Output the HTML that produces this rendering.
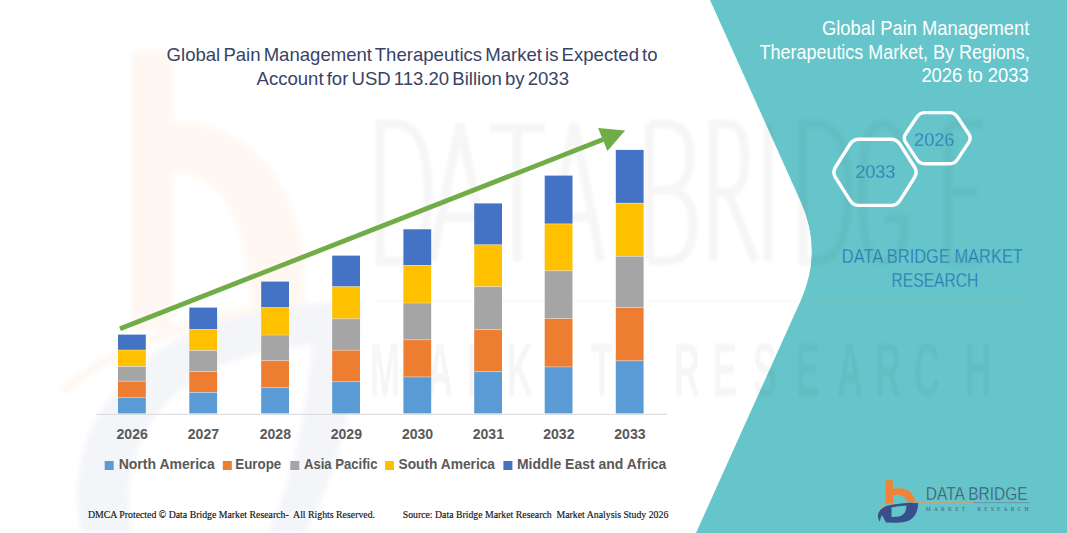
<!DOCTYPE html>
<html><head><meta charset="utf-8">
<style>
html,body{margin:0;padding:0;background:#fff;}
body{width:1067px;height:533px;overflow:hidden;position:relative;}
svg{position:absolute;left:0;top:0;display:block;}
text{font-family:"Liberation Sans",sans-serif;}
.serif{font-family:"Liberation Serif",serif;}
</style></head><body>
<svg width="1067" height="533" viewBox="0 0 1067 533">
<rect x="0" y="0" width="1067" height="533" fill="#ffffff"/>
<!-- watermark -->
<filter id="bl2" x="-20%" y="-20%" width="140%" height="140%"><feGaussianBlur stdDeviation="2.5"/></filter>
<g filter="url(#bl2)">
  <path fill-rule="evenodd" d="M132 51 L172 51 L172 122 C240 118 300 175 305 270 L305 330 L132 330 Z M172 172 C225 172 250 230 252 330 L172 330 Z" fill="#FFF8F2"/>
  <path d="M62 392 Q130 330 300 300" fill="none" stroke="#FFF8F1" stroke-width="9"/>
  <path fill-rule="evenodd" d="M82 533 C60 440 120 352 220 322 C280 305 330 302 362 300 C357 400 335 480 305 533 Z M132 533 C118 460 150 392 230 362 C268 348 298 346 312 345 C306 420 292 480 268 533 Z" fill="#F4F5F9"/>
</g>
<!-- teal panel -->
<path d="M710 0 L800 200 Q823 250 801 300 L696 533 L1067 533 L1067 0 Z" fill="#66C5CA"/>

<!-- watermark letters -->
<filter id="bl" x="-10%" y="-10%" width="120%" height="120%"><feGaussianBlur stdDeviation="1.5"/></filter>
<g fill="none" stroke="#000" stroke-opacity="0.035" stroke-width="9" stroke-linejoin="miter" filter="url(#bl)" transform="translate(0,-1)">
<path d="M380 125 V262 H395 Q428 262 428 193.5 Q428 125 395 125 Z"/>
<path d="M432 262 L460 125 L488 262 M441 218 H479"/>
<path d="M490 129 H545 M517.5 129 V262"/>
<path d="M547 262 L574 125 L601 262 M556 218 H592"/>
<path d="M649 125 V262 M649 125 H665 Q690 125 690 157 Q690 191 665 191 H649 M665 191 Q693 191 693 226 Q693 262 665 262 H649"/>
<path d="M713 262 V125 H728 Q745 125 745 159 Q745 193 728 193 H713 M728 193 L755 262"/>
<path d="M768 125 V262"/>
<path d="M803 125 V262 H815 Q848 262 848 193.5 Q848 125 815 125 Z"/>
<path d="M905 150 Q895 125 882 125 Q862 125 862 193.5 Q862 262 882 262 Q905 262 905 220 H885"/>
<path d="M948 125 V262 M948 125 H983 M948 193 H978 M948 262 H983"/>
</g>
<rect x="374" y="299.5" width="660" height="3" fill="#F07A1A" fill-opacity="0.035"/>
<g transform="scale(0.48,1)" filter="url(#bl)"><text x="802.1 916.7 1000.0 1083.3 1166.7 1254.2 1431.2 1510.4 1593.8 1683.3 1770.8 1850.0 1931.2 2037.5" y="396.5" font-size="76" font-weight="bold" fill="#000" fill-opacity="0.035" text-anchor="middle">MARKETRESEARCH</text></g>

<!-- title -->
<text x="166.6" y="61" font-size="18.4" fill="#384366" word-spacing="-2" textLength="491" lengthAdjust="spacingAndGlyphs">Global Pain Management Therapeutics Market is Expected to</text>
<text x="256.5" y="84.5" font-size="18.4" fill="#384366" word-spacing="-2" textLength="312.5" lengthAdjust="spacingAndGlyphs">Account for USD 113.20 Billion by 2033</text>

<!-- axis -->
<rect x="96" y="413.8" width="571" height="1" fill="#D9D9D9"/>
<rect x="118" y="334.6" width="27.8" height="15.4" fill="#4472C4"/>
<rect x="118" y="350" width="27.8" height="16.5" fill="#FFC000"/>
<rect x="118" y="349.6" width="27.8" height="0.8" fill="#ffffff" fill-opacity="0.45"/>
<rect x="118" y="366.5" width="27.8" height="14.7" fill="#A5A5A5"/>
<rect x="118" y="366.1" width="27.8" height="0.8" fill="#ffffff" fill-opacity="0.45"/>
<rect x="118" y="381.2" width="27.8" height="16.1" fill="#ED7D31"/>
<rect x="118" y="380.8" width="27.8" height="0.8" fill="#ffffff" fill-opacity="0.45"/>
<rect x="118" y="397.3" width="27.8" height="16.1" fill="#5B9BD5"/>
<rect x="118" y="396.9" width="27.8" height="0.8" fill="#ffffff" fill-opacity="0.45"/>
<rect x="189.3" y="307.6" width="27.8" height="21.9" fill="#4472C4"/>
<rect x="189.3" y="329.5" width="27.8" height="21.0" fill="#FFC000"/>
<rect x="189.3" y="329.1" width="27.8" height="0.8" fill="#ffffff" fill-opacity="0.45"/>
<rect x="189.3" y="350.5" width="27.8" height="21.0" fill="#A5A5A5"/>
<rect x="189.3" y="350.1" width="27.8" height="0.8" fill="#ffffff" fill-opacity="0.45"/>
<rect x="189.3" y="371.5" width="27.8" height="20.9" fill="#ED7D31"/>
<rect x="189.3" y="371.1" width="27.8" height="0.8" fill="#ffffff" fill-opacity="0.45"/>
<rect x="189.3" y="392.4" width="27.8" height="21.0" fill="#5B9BD5"/>
<rect x="189.3" y="392.0" width="27.8" height="0.8" fill="#ffffff" fill-opacity="0.45"/>
<rect x="261.2" y="281.6" width="27.8" height="26.0" fill="#4472C4"/>
<rect x="261.2" y="307.6" width="27.8" height="27.4" fill="#FFC000"/>
<rect x="261.2" y="307.2" width="27.8" height="0.8" fill="#ffffff" fill-opacity="0.45"/>
<rect x="261.2" y="335" width="27.8" height="25.7" fill="#A5A5A5"/>
<rect x="261.2" y="334.6" width="27.8" height="0.8" fill="#ffffff" fill-opacity="0.45"/>
<rect x="261.2" y="360.7" width="27.8" height="27.0" fill="#ED7D31"/>
<rect x="261.2" y="360.3" width="27.8" height="0.8" fill="#ffffff" fill-opacity="0.45"/>
<rect x="261.2" y="387.7" width="27.8" height="25.7" fill="#5B9BD5"/>
<rect x="261.2" y="387.3" width="27.8" height="0.8" fill="#ffffff" fill-opacity="0.45"/>
<rect x="332.2" y="255.6" width="27.8" height="31.1" fill="#4472C4"/>
<rect x="332.2" y="286.7" width="27.8" height="32.1" fill="#FFC000"/>
<rect x="332.2" y="286.3" width="27.8" height="0.8" fill="#ffffff" fill-opacity="0.45"/>
<rect x="332.2" y="318.8" width="27.8" height="31.4" fill="#A5A5A5"/>
<rect x="332.2" y="318.4" width="27.8" height="0.8" fill="#ffffff" fill-opacity="0.45"/>
<rect x="332.2" y="350.2" width="27.8" height="31.5" fill="#ED7D31"/>
<rect x="332.2" y="349.8" width="27.8" height="0.8" fill="#ffffff" fill-opacity="0.45"/>
<rect x="332.2" y="381.7" width="27.8" height="31.7" fill="#5B9BD5"/>
<rect x="332.2" y="381.3" width="27.8" height="0.8" fill="#ffffff" fill-opacity="0.45"/>
<rect x="403.4" y="229.3" width="27.8" height="36.2" fill="#4472C4"/>
<rect x="403.4" y="265.5" width="27.8" height="37.5" fill="#FFC000"/>
<rect x="403.4" y="265.1" width="27.8" height="0.8" fill="#ffffff" fill-opacity="0.45"/>
<rect x="403.4" y="303" width="27.8" height="36.8" fill="#A5A5A5"/>
<rect x="403.4" y="302.6" width="27.8" height="0.8" fill="#ffffff" fill-opacity="0.45"/>
<rect x="403.4" y="339.8" width="27.8" height="37.1" fill="#ED7D31"/>
<rect x="403.4" y="339.4" width="27.8" height="0.8" fill="#ffffff" fill-opacity="0.45"/>
<rect x="403.4" y="376.9" width="27.8" height="36.5" fill="#5B9BD5"/>
<rect x="403.4" y="376.5" width="27.8" height="0.8" fill="#ffffff" fill-opacity="0.45"/>
<rect x="474.2" y="203.4" width="27.8" height="41.4" fill="#4472C4"/>
<rect x="474.2" y="244.8" width="27.8" height="41.9" fill="#FFC000"/>
<rect x="474.2" y="244.4" width="27.8" height="0.8" fill="#ffffff" fill-opacity="0.45"/>
<rect x="474.2" y="286.7" width="27.8" height="42.7" fill="#A5A5A5"/>
<rect x="474.2" y="286.3" width="27.8" height="0.8" fill="#ffffff" fill-opacity="0.45"/>
<rect x="474.2" y="329.4" width="27.8" height="42.3" fill="#ED7D31"/>
<rect x="474.2" y="329.0" width="27.8" height="0.8" fill="#ffffff" fill-opacity="0.45"/>
<rect x="474.2" y="371.7" width="27.8" height="41.7" fill="#5B9BD5"/>
<rect x="474.2" y="371.3" width="27.8" height="0.8" fill="#ffffff" fill-opacity="0.45"/>
<rect x="544.7" y="175.6" width="27.8" height="48.3" fill="#4472C4"/>
<rect x="544.7" y="223.9" width="27.8" height="46.9" fill="#FFC000"/>
<rect x="544.7" y="223.5" width="27.8" height="0.8" fill="#ffffff" fill-opacity="0.45"/>
<rect x="544.7" y="270.8" width="27.8" height="47.8" fill="#A5A5A5"/>
<rect x="544.7" y="270.4" width="27.8" height="0.8" fill="#ffffff" fill-opacity="0.45"/>
<rect x="544.7" y="318.6" width="27.8" height="48.3" fill="#ED7D31"/>
<rect x="544.7" y="318.2" width="27.8" height="0.8" fill="#ffffff" fill-opacity="0.45"/>
<rect x="544.7" y="366.9" width="27.8" height="46.5" fill="#5B9BD5"/>
<rect x="544.7" y="366.5" width="27.8" height="0.8" fill="#ffffff" fill-opacity="0.45"/>
<rect x="615.8" y="149.9" width="27.8" height="53.3" fill="#4472C4"/>
<rect x="615.8" y="203.2" width="27.8" height="53.1" fill="#FFC000"/>
<rect x="615.8" y="202.8" width="27.8" height="0.8" fill="#ffffff" fill-opacity="0.45"/>
<rect x="615.8" y="256.3" width="27.8" height="51.2" fill="#A5A5A5"/>
<rect x="615.8" y="255.9" width="27.8" height="0.8" fill="#ffffff" fill-opacity="0.45"/>
<rect x="615.8" y="307.5" width="27.8" height="53.3" fill="#ED7D31"/>
<rect x="615.8" y="307.1" width="27.8" height="0.8" fill="#ffffff" fill-opacity="0.45"/>
<rect x="615.8" y="360.8" width="27.8" height="52.6" fill="#5B9BD5"/>
<rect x="615.8" y="360.4" width="27.8" height="0.8" fill="#ffffff" fill-opacity="0.45"/>
<!-- arrow -->
<line x1="120" y1="328.7" x2="603" y2="139.5" stroke="#70AD47" stroke-width="4.8"/>
<path d="M625.1 130.6 L598.1 128.1 L607.4 150.9 Z" fill="#70AD47"/>

<!-- years -->
<g font-weight="bold" font-size="14.4" fill="#595959" text-anchor="middle">
<text x="132.15" y="438.7" textLength="31.3" lengthAdjust="spacingAndGlyphs">2026</text>
<text x="203.45" y="438.7" textLength="31.3" lengthAdjust="spacingAndGlyphs">2027</text>
<text x="275.35" y="438.7" textLength="31.3" lengthAdjust="spacingAndGlyphs">2028</text>
<text x="346.35" y="438.7" textLength="31.3" lengthAdjust="spacingAndGlyphs">2029</text>
<text x="417.55" y="438.7" textLength="31.3" lengthAdjust="spacingAndGlyphs">2030</text>
<text x="488.35" y="438.7" textLength="31.3" lengthAdjust="spacingAndGlyphs">2031</text>
<text x="558.85" y="438.7" textLength="31.3" lengthAdjust="spacingAndGlyphs">2032</text>
<text x="629.95" y="438.7" textLength="31.3" lengthAdjust="spacingAndGlyphs">2033</text>
</g>

<!-- legend -->
<g font-weight="bold" font-size="14.7" fill="#595959">
<rect x="104.7" y="461" width="9" height="9" fill="#5B9BD5"/>
<text x="118.7" y="469.1" textLength="96" lengthAdjust="spacingAndGlyphs">North America</text>
<rect x="222.8" y="461" width="9" height="9" fill="#ED7D31"/>
<text x="235.3" y="469.1" textLength="46" lengthAdjust="spacingAndGlyphs">Europe</text>
<rect x="290.3" y="461" width="9" height="9" fill="#A5A5A5"/>
<text x="304" y="469.1" textLength="73.5" lengthAdjust="spacingAndGlyphs">Asia Pacific</text>
<rect x="385" y="461" width="9" height="9" fill="#FFC000"/>
<text x="398.5" y="469.1" textLength="96.5" lengthAdjust="spacingAndGlyphs">South America</text>
<rect x="503.4" y="461" width="9" height="9" fill="#4472C4"/>
<text x="516.9" y="469.1" textLength="149.5" lengthAdjust="spacingAndGlyphs">Middle East and Africa</text>
</g>

<!-- footer -->
<text class="serif" x="88" y="518" font-size="10" fill="#111" stroke="#111" stroke-width="0.15" textLength="287" lengthAdjust="spacingAndGlyphs">DMCA Protected © Data Bridge Market Research-&#160; All Rights Reserved.</text>
<text class="serif" x="402.7" y="518" font-size="10" fill="#111" stroke="#111" stroke-width="0.15" textLength="265.6" lengthAdjust="spacingAndGlyphs">Source: Data Bridge Market Research&#160; Market Analysis Study 2026</text>

<!-- right panel text -->
<g font-size="19.8" fill="#ffffff">
<text x="822" y="34.5" textLength="207.3" lengthAdjust="spacingAndGlyphs">Global Pain Management</text>
<text x="759.6" y="58.9" textLength="270.2" lengthAdjust="spacingAndGlyphs">Therapeutics Market, By Regions,</text>
<text x="921.4" y="82" textLength="107.4" lengthAdjust="spacingAndGlyphs">2026 to 2033</text>
</g>

<!-- hexagons -->
<g fill="none" stroke="#ffffff" stroke-width="3.4">
<path d="M835.41 177.37 Q832.20 172.30 835.41 167.23 L849.99 144.27 Q853.20 139.20 859.20 139.20 L890.80 139.20 Q896.80 139.20 900.01 144.27 L914.59 167.23 Q917.80 172.30 914.59 177.37 L900.01 200.33 Q896.80 205.40 890.80 205.40 L859.20 205.40 Q853.20 205.40 849.99 200.33 Z"/>
<path d="M905.62 142.37 Q902.85 138.20 905.62 134.03 L917.08 116.77 Q919.85 112.60 924.85 112.60 L949.55 112.60 Q954.55 112.60 957.32 116.77 L968.78 134.03 Q971.55 138.20 968.78 142.37 L957.32 159.63 Q954.55 163.80 949.55 163.80 L924.85 163.80 Q919.85 163.80 917.08 159.63 Z"/>
</g>
<g font-size="18" fill="#2A7BB2" stroke="#66C5CA" stroke-width="0.3">
<text x="855.2" y="178.3" textLength="40.2" lengthAdjust="spacingAndGlyphs">2033</text>
<text x="914.1" y="146" textLength="40.2" lengthAdjust="spacingAndGlyphs">2026</text>
</g>
<g font-size="19.5" fill="#2A7BB2" stroke="#66C5CA" stroke-width="0.3">
<text x="841.8" y="262.6" textLength="181.1" lengthAdjust="spacingAndGlyphs">DATA BRIDGE MARKET</text>
<text x="891.6" y="286.6" textLength="86.6" lengthAdjust="spacingAndGlyphs">RESEARCH</text>
</g>

<!-- logo -->
<g>
<path d="M885.6 480.3 L892.9 480.3 L892.9 488.8 Q897 487.8 902 488.3 Q913 490 915.6 501.5 L907 501.8 Q905 495 897 494.8 L892.9 495 L892.9 503 L885.6 503.5 Z" fill="#F0823A"/>
<path d="M877 507.5 Q895 502.5 919 502.3 L919 503.2 Q895 504 877 508.2 Z" fill="#E89A5A"/>
<path fill-rule="evenodd" fill="#37508C" d="M879.8 521.8 Q874 512 886 506 Q900 502.8 918 502.6 Q918.5 516 908 521 Q903 523 895 522.8 L886 522.6 Q884 519 882 515 Q880 518 879.8 521.8 Z M891.5 507.5 Q899 505.5 906.5 505.8 Q906 516 897.5 516.8 L891.5 517 Z"/>
<text x="925.8" y="499.5" font-size="18.8" fill="#3B4E66" stroke="#66C5CA" stroke-width="0.45" textLength="101.9" lengthAdjust="spacingAndGlyphs">DATA BRIDGE</text>
<rect x="913" y="502.2" width="60" height="0.9" fill="#C9A27A"/>
<rect x="973" y="502.2" width="57" height="0.9" fill="#6F8FA8"/>
<text class="serif" x="925.8" y="511" font-size="5.6" fill="#4A5E72" textLength="102.7" lengthAdjust="spacing">MARKET&#160; RESEARCH</text>
</g>
</svg>
</body></html>
